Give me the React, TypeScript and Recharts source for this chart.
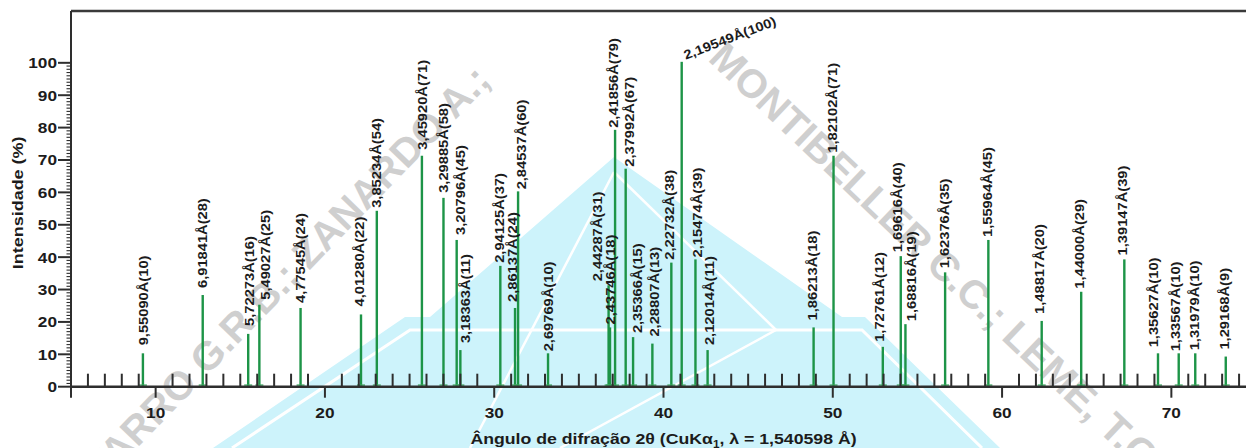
import React from 'react';
import { ComposedChart, Bar, XAxis, YAxis, LabelList, ReferenceLine } from 'recharts';

const FONT = '"Liberation Sans", Arial, Helvetica, sans-serif';
const TEXT = '#1c1c1c';
const AXIS = '#2e2e2e';
const GREEN = '#1d9447';

// 2θ positions (degrees) of the peaks
const twoTheta = [
  9.252, 12.785, 15.472, 16.131, 18.565, 22.135, 23.069, 25.733, 27.007, 27.787,
  28.004, 30.365, 31.234, 31.414, 33.183, 36.761, 36.845, 37.144, 37.77, 38.207,
  39.347, 40.467, 41.079, 41.892, 42.609, 48.871, 50.048, 52.959, 54.02, 54.296,
  56.64, 59.194, 62.345, 64.678, 67.226, 69.215, 70.439, 71.416, 73.218,
];
// d-spacings (Å)
const dSpacing = [
  '9,55090', '6,91841', '5,72273', '5,49027', '4,77545', '4,01280', '3,85234', '3,45920', '3,29885', '3,20796',
  '3,18363', '2,94125', '2,86137', '2,84537', '2,69769', '2,44287', '2,43746', '2,41856', '2,37992', '2,35366',
  '2,28807', '2,22732', '2,19549', '2,15474', '2,12014', '1,86213', '1,82102', '1,72761', '1,69616', '1,68816',
  '1,62376', '1,55964', '1,48817', '1,44000', '1,39147', '1,35627', '1,33567', '1,31979', '1,29168',
];
// relative intensities (%)
const intensity = [
  10, 28, 16, 25, 24, 22, 54, 71, 58, 45,
  11, 37, 24, 60, 10, 31, 18, 79, 67, 15,
  13, 38, 100, 39, 11, 18, 71, 12, 40, 19,
  35, 45, 20, 29, 39, 10, 10, 10, 9,
];

const xMajorLabels = [10, 20, 30, 40, 50, 60, 70];
const yMajorLabels = [0, 10, 20, 30, 40, 50, 60, 70, 80, 90, 100];
const xTicks = Array.from({ length: 71 }, (_, k) => 5 + k);
const yTicks = Array.from({ length: 101 }, (_, k) => k);

// label layout nudges: [dx, gap above bar]
const labelLayout: [number, number][] = [
  [0, 9], [0, 8], [1, 9], [6, 6], [0, 6], [-2, 9], [0, 4], [0, 7], [0, 6], [4, 6],
  [5, 8], [-1, 4], [-3, 7], [3, 3], [0, 3], [-11, 5], [0, 4], [-2, 3], [4, 3], [4, 5],
  [2, 8], [-2, 4], [4, 3], [2, 3], [2, 6], [-1, 8], [-1, 4], [-3, 6], [-3, 5], [6, 4],
  [-1, 5], [-1, 4], [-2, 8], [-2, 4], [-2, 5], [-5, 7], [-3, 3], [-1, 4], [-1, 8],
];
const TILTED = 22;

const data = twoTheta.map((t, i) => ({
  t,
  inten: intensity[i],
  label: `${dSpacing[i]}Å(${intensity[i]})`,
}));

function XTick(props: any) {
  const { x, y, payload } = props;
  const v = payload.value;
  if (v === 5) return <line x1={x} x2={x} y1={y} y2={y + 11} stroke={AXIS} strokeWidth={2} />;
  if (xMajorLabels.includes(v)) {
    return (
      <g>
        <line x1={x} x2={x} y1={y} y2={y + 11} stroke={AXIS} strokeWidth={2} />
        <text
          transform={`translate(${x},${y + 31}) scale(1.15,1)`}
          textAnchor="middle"
          fontSize={15}
          fontWeight="bold"
          fontFamily={FONT}
          fill={TEXT}
        >
          {v}
        </text>
      </g>
    );
  }
  return <line x1={x} x2={x} y1={y} y2={y - 13} stroke={AXIS} strokeWidth={2} />;
}

function YTick(props: any) {
  const { x, y, payload } = props;
  const v = payload.value;
  if (yMajorLabels.includes(v)) {
    return (
      <g>
        <line x1={x - 13} x2={x} y1={y} y2={y} stroke={AXIS} strokeWidth={2} />
        <text
          transform={`translate(${x - 14},${y + 5.4}) scale(1.15,1)`}
          textAnchor="end"
          fontSize={15}
          fontWeight="bold"
          fontFamily={FONT}
          fill={TEXT}
        >
          {v}
        </text>
      </g>
    );
  }
  return <line x1={x - 4.5} x2={x} y1={y} y2={y} stroke={AXIS} strokeWidth={1.1} />;
}

function Peak(props: any) {
  const { x, y, width, height } = props;
  if (x == null || height == null) return null;
  const cx = x + width / 2;
  return (
    <g>
      <rect x={cx - 1.2} y={y - 1} width={2.4} height={height + 1} fill={GREEN} />
      <rect x={cx - 4} y={y + height - 2.5} width={8} height={2.5} fill="#3fa862" opacity={0.75} />
    </g>
  );
}

function renderLabel(props: any) {
  const vb = props.viewBox ?? props;
  const x = vb.x ?? props.x;
  const y = vb.y ?? props.y;
  const width = vb.width ?? props.width ?? 0;
  const idx = props.index;
  const cx = x + width / 2;
  const common = {
    fontSize: 13,
    fontWeight: 'bold' as const,
    fontFamily: FONT,
    fill: TEXT,
  };
  if (idx === TILTED) {
    const [dx, dy] = labelLayout[idx];
    return (
      <text {...common} transform={`translate(${cx + dx},${y - dy}) rotate(-21) scale(1.13,1)`}>
        {props.value}
      </text>
    );
  }
  const [dx, gap] = labelLayout[idx] ?? [0, 5];
  return (
    <text
      {...common}
      dy="0.36em"
      transform={`translate(${cx + dx},${y - gap}) rotate(-90) scale(1.13,1)`}
    >
      {props.value}
    </text>
  );
}

function YTitle(props: any) {
  const vb = props.viewBox ?? { x: 0, y: 11, width: 71, height: 376 };
  const cy = vb.y + vb.height / 2 + 4;
  return (
    <text
      transform={`translate(22.5,${cy}) rotate(-90) scale(1.2,1)`}
      textAnchor="middle"
      fontSize={15}
      fontWeight="bold"
      fontFamily={FONT}
      fill={TEXT}
    >
      Intensidade (%)
    </text>
  );
}

function XTitle(props: any) {
  const vb = props.viewBox ?? { x: 71, y: 387, width: 1185, height: 61 };
  const cx = vb.x + vb.width / 2;
  return (
    <text
      transform={`translate(${cx},${vb.y + 57}) scale(1.18,1)`}
      textAnchor="middle"
      fontSize={15}
      fontWeight="bold"
      fontFamily={FONT}
      fill={TEXT}
    >
      Ângulo de difração 2θ (CuKα<tspan fontSize={10} dy={4}>1</tspan>
      <tspan dy={-4}>, λ = 1,540598 Å)</tspan>
    </text>
  );
}

function Watermark() {
  const wm = {
    fontSize: 40,
    fontWeight: 'bold' as const,
    fontFamily: FONT,
    fill: '#cfcfcf',
  };
  return (
    <svg width={1246} height={448} style={{ position: 'absolute', left: 0, top: 0 }}>
      <polygon points="614,157 842,317 865,317 1000,448 213,448 405,317 430,317" fill="#cdf3fb" />
      <polyline points="232,448 410,330 862,330 982,448" fill="none" stroke="#fff" strokeWidth={3} />
      <line x1={614} y1={172} x2={470} y2={448} stroke="#fff" strokeWidth={2.5} />
      <line x1={614} y1={172} x2={776} y2={330} stroke="#fff" strokeWidth={2.5} />
      <line x1={776} y1={330} x2={560} y2={448} stroke="#fff" strokeWidth={2.5} />
      <text {...wm} textAnchor="end" transform="translate(492,82) rotate(-45.9)">
        NAVARRO G.R.B.; ZANARDO A.;
      </text>
      <text {...wm} transform="translate(707,60) rotate(43.5)">
        MONTIBELLER C.C.; LEME, T.G.
      </text>
    </svg>
  );
}

export default function App() {
  return (
    <div
      style={{
        position: 'fixed',
        left: 0,
        top: 0,
        width: 1246,
        height: 448,
        overflow: 'hidden',
        background: '#ffffff',
      }}
    >
      <Watermark />
      <div style={{ position: 'absolute', left: 0, top: 0 }}>
        <ComposedChart
          width={1275}
          height={448}
          data={data}
          margin={{ top: 11, right: 19, left: 0, bottom: 0 }}
        >
          <XAxis
            dataKey="t"
            type="number"
            domain={[5, 75]}
            ticks={xTicks}
            interval={0}
            tickSize={0}
            tickMargin={0}
            tickLine={false}
            allowDataOverflow
            height={61.3}
            axisLine={{ stroke: AXIS, strokeWidth: 2.5 }}
            tick={<XTick />}
            label={{ content: (p: any) => <XTitle {...p} /> }}
          />
          <YAxis
            type="number"
            domain={[0, 116]}
            ticks={yTicks}
            interval={0}
            tickSize={0}
            tickMargin={0}
            tickLine={false}
            allowDataOverflow
            width={71}
            axisLine={{ stroke: AXIS, strokeWidth: 2 }}
            tick={<YTick />}
            label={{ content: (p: any) => <YTitle {...p} /> }}
          />
          <ReferenceLine y={116} stroke="#3a3a3a" strokeWidth={2.5} />
          <Bar dataKey="inten" barSize={3} isAnimationActive={false} shape={<Peak />}>
            <LabelList dataKey="label" content={renderLabel} />
          </Bar>
        </ComposedChart>
      </div>
    </div>
  );
}
